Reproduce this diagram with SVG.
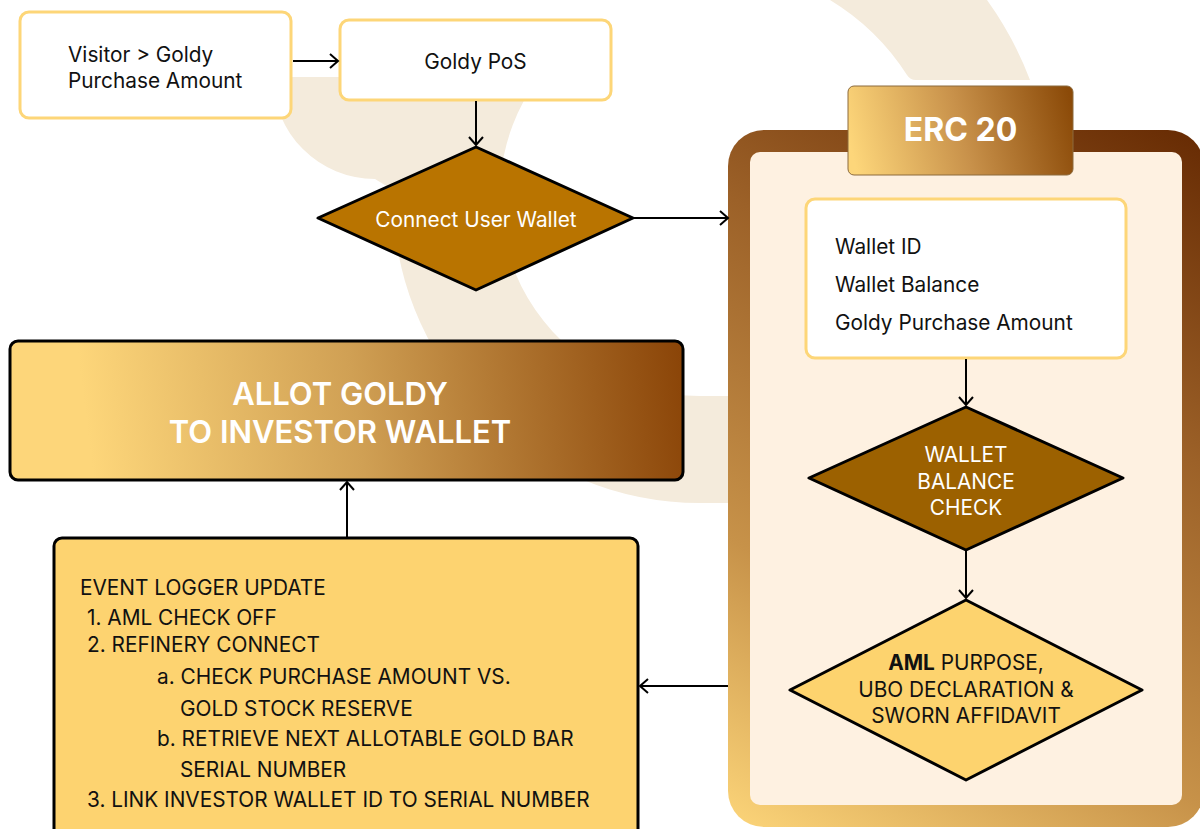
<svg xmlns="http://www.w3.org/2000/svg" width="1200" height="829" viewBox="0 0 1200 829">
<defs>
<style>
.t{font-family:Inter,"Liberation Sans",sans-serif;font-size:20.8px;fill:#111}
.w{fill:#fff}
.box{fill:#fff;stroke:#FDD678;stroke-width:3}
.dia{stroke:#000;stroke-width:3;stroke-linejoin:round}
.con{stroke:#000;stroke-width:2;fill:none;marker-end:url(#arr)}
.bg{fill:#F4EBDC}
</style>
<marker id="arr" markerUnits="userSpaceOnUse" markerWidth="14" markerHeight="18" refX="9" refY="8" orient="auto">
<path d="M1,1 L9,8 L1,15" fill="none" stroke="#000" stroke-width="2"/>
</marker>
<linearGradient id="frameG" gradientUnits="userSpaceOnUse" x1="760" y1="850" x2="1180" y2="110">
<stop offset="0" stop-color="#FDD67A"/>
<stop offset="0.3" stop-color="#C79249"/>
<stop offset="0.65" stop-color="#9C6128"/>
<stop offset="1" stop-color="#652902"/>
</linearGradient>
<linearGradient id="hdrG" gradientUnits="userSpaceOnUse" x1="855" y1="165" x2="1073" y2="110">
<stop offset="0" stop-color="#FDD67A"/>
<stop offset="0.5" stop-color="#C8914A"/>
<stop offset="1" stop-color="#8B4A08"/>
</linearGradient>
<linearGradient id="allotG" gradientUnits="userSpaceOnUse" x1="90" y1="450" x2="683" y2="375">
<stop offset="0" stop-color="#FDD67A"/>
<stop offset="0.45" stop-color="#D0A054"/>
<stop offset="1" stop-color="#8B4508"/>
</linearGradient>
</defs>
<rect width="1200" height="829" fill="#fff"/>
<g id="background">
<path class="bg" d="M273,77 L539,77 A200,200 0 0 0 700,396 L740,396 L740,503 L700,503 A307,307 0 0 1 393,190 L375,179 A102,102 0 0 1 273,77 Z"/>
<path class="bg" d="M830,0 L987,0 A348,348 0 0 1 1030,80 L916,80 Q910,80 907,75 A238,238 0 0 0 830,0 Z" fill="#F8EEDC"/>
</g>
<g id="erc20-frame">
<rect x="728" y="130" width="476" height="697" rx="36" fill="url(#frameG)"/>
<rect x="750" y="152" width="432" height="653" rx="10" fill="#FEF1E1"/>
</g>
<g id="erc20-header">
<rect x="848" y="86" width="225" height="89" rx="6" fill="url(#hdrG)" stroke="#8C6A3C" stroke-width="1"/>
<text class="t w" x="960.5" y="141" text-anchor="middle" font-weight="700" style="font-size:32px">ERC 20</text>
</g>
<g id="visitor">
<rect class="box" x="20" y="12" width="271" height="106" rx="9"/>
<text class="t" x="68" y="62">Visitor &gt; Goldy</text>
<text class="t" x="68" y="88">Purchase Amount</text>
</g>
<g id="goldy-pos">
<rect class="box" x="340" y="20" width="271" height="80" rx="9"/>
<text class="t" x="475.5" y="69" text-anchor="middle">Goldy PoS</text>
</g>
<g id="connect-wallet">
<polygon class="dia" points="476,147 633,218 476,290 318,218" fill="#B97400"/>
<text class="t w" x="476" y="227" text-anchor="middle">Connect User Wallet</text>
</g>
<g id="wallet-info">
<rect class="box" x="806" y="199" width="320" height="159" rx="9"/>
<text class="t" x="835" y="254">Wallet ID</text>
<text class="t" x="835" y="292">Wallet Balance</text>
<text class="t" x="835" y="330">Goldy Purchase Amount</text>
</g>
<g id="balance-check">
<polygon class="dia" points="966,407 1123,478 966,550 809,478" fill="#9C6100"/>
<text class="t w" x="966" y="462" text-anchor="middle">WALLET</text>
<text class="t w" x="966" y="489" text-anchor="middle">BALANCE</text>
<text class="t w" x="966" y="515" text-anchor="middle">CHECK</text>
</g>
<g id="aml-check">
<polygon class="dia" points="966,600 1142,690 966,780 790,690" fill="#FDD36E"/>
<text class="t" x="966" y="670" text-anchor="middle"><tspan font-weight="700">AML</tspan> PURPOSE,</text>
<text class="t" x="966" y="697" text-anchor="middle">UBO DECLARATION &amp;</text>
<text class="t" x="966" y="723" text-anchor="middle">SWORN AFFIDAVIT</text>
</g>
<g id="allot">
<rect x="10" y="341" width="673" height="139" rx="8" fill="url(#allotG)" stroke="#000" stroke-width="3"/>
<text class="t w" x="340" y="405" text-anchor="middle" font-weight="600" style="font-size:31px">ALLOT GOLDY</text>
<text class="t w" x="340" y="443" text-anchor="middle" font-weight="600" style="font-size:31px">TO INVESTOR WALLET</text>
</g>
<g id="event-logger">
<rect x="54" y="538" width="584" height="310" rx="8" fill="#FDD370" stroke="#000" stroke-width="3"/>
<text class="t" x="80" y="595">EVENT LOGGER UPDATE</text>
<text class="t" x="87" y="625">1. AML CHECK OFF</text>
<text class="t" x="87" y="652">2. REFINERY CONNECT</text>
<text class="t" x="157" y="684">a. CHECK PURCHASE AMOUNT VS.</text>
<text class="t" x="180" y="716">GOLD STOCK RESERVE</text>
<text class="t" x="157" y="746">b. RETRIEVE NEXT ALLOTABLE GOLD BAR</text>
<text class="t" x="180" y="777">SERIAL NUMBER</text>
<text class="t" x="87" y="807">3. LINK INVESTOR WALLET ID TO SERIAL NUMBER</text>
</g>
<g id="connectors">
<line class="con" x1="293" y1="61" x2="338" y2="61"/>
<line class="con" x1="476" y1="101" x2="476" y2="145"/>
<line class="con" x1="634" y1="218" x2="728" y2="218"/>
<line class="con" x1="966" y1="359" x2="966" y2="405"/>
<line class="con" x1="966" y1="551" x2="966" y2="598"/>
<line class="con" x1="728" y1="686" x2="640" y2="686"/>
<line class="con" x1="347" y1="537" x2="347" y2="482"/>
</g>
</svg>
